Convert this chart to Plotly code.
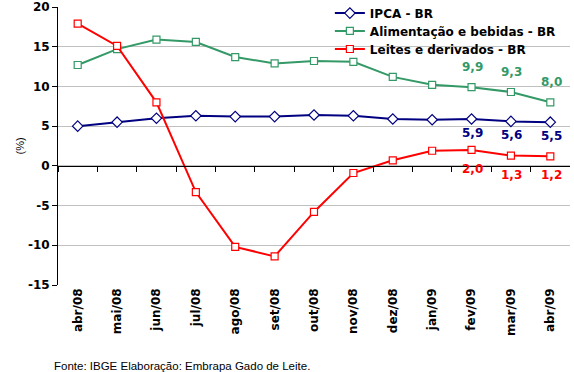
import plotly.graph_objects as go

months = ["abr/08", "mai/08", "jun/08", "jul/08", "ago/08", "set/08", "out/08",
          "nov/08", "dez/08", "jan/09", "fev/09", "mar/09", "abr/09"]
ipca = [5.0, 5.5, 6.0, 6.3, 6.2, 6.2, 6.4, 6.3, 5.9, 5.8, 5.9, 5.6, 5.5]
alimentacao = [12.7, 14.7, 15.9, 15.6, 13.7, 12.9, 13.2, 13.1, 11.2, 10.2, 9.9, 9.3, 8.0]
leites = [17.9, 15.1, 8.0, -3.3, -10.2, -11.4, -5.8, -0.9, 0.7, 1.9, 2.0, 1.3, 1.2]
y_ticks = [-15, -10, -5, 0, 5, 10, 15, 20]
y_tick_text = ["-15", "-10", "-5", "0", "5", "10", "15", "20"]

BOLD = "DejaVu Sans, Verdana, sans-serif"
FONT = "Liberation Sans, Arial, sans-serif"
NAVY = "#000080"
GREEN = "#339966"
RED = "#FF0000"

xs = list(range(len(months)))

fig = go.Figure()
series = [
    ("IPCA - BR", ipca, NAVY, "diamond", 8, "legend"),
    ("Alimentação e bebidas - BR", alimentacao, GREEN, "square", 7, "legend2"),
    ("Leites e derivados - BR", leites, RED, "square", 7, "legend3"),
]
for name, vals, col, sym, ms, lg in series:
    fig.add_trace(go.Scatter(
        x=xs, y=vals, name=name, mode="lines+markers", legend=lg,
        line=dict(color=col, width=2),
        marker=dict(symbol=sym, size=ms, color="white",
                    line=dict(color=col, width=1.2)),
    ))

# dummy trace for the zero-line axis with boundary ticks
fig.add_trace(go.Scatter(x=[None], y=[None], xaxis="x2", showlegend=False,
                         hoverinfo="skip"))

# data labels for the last three points
label_cfg = [(ipca, NAVY, -14), (alimentacao, GREEN, 20), (leites, RED, -19)]
for vals, col, shift in label_cfg:
    for i in range(len(vals) - 3, len(vals)):
        fig.add_annotation(
            x=xs[i], y=vals[i], text=f"{vals[i]:.1f}".replace(".", ","),
            showarrow=False, yshift=shift, xshift=1,
            font=dict(family=BOLD, size=12, color=col, weight="bold"),
        )

fig.add_annotation(
    x=-0.089, y=0.5, xref="paper", yref="paper", text="(%)",
    textangle=-90, showarrow=False,
    font=dict(family=FONT, size=11, color="black"),
)
fig.add_annotation(
    x=-0.012, y=-0.29, xref="paper", yref="paper", xanchor="left", yanchor="middle",
    text="Fonte: IBGE Elaboração: Embrapa Gado de Leite.", showarrow=False,
    font=dict(family=FONT, size=11.5, color="black"),
)

legend_common = dict(
    x=0.531, xanchor="left", yanchor="middle", bgcolor="rgba(0,0,0,0)",
    font=dict(family=BOLD, size=12, color="black", weight="bold"),
    itemwidth=30, borderwidth=0,
)

fig.update_layout(
    width=574, height=372, autosize=False,
    margin=dict(l=58, r=4, t=7, b=87, autoexpand=False),
    paper_bgcolor="white", plot_bgcolor="white",
    font=dict(family=FONT, color="black"),
    showlegend=True,
    legend=dict(y=0.978, **legend_common),
    legend2=dict(y=0.914, **legend_common),
    legend3=dict(y=0.849, **legend_common),
    xaxis=dict(
        range=[-0.5, 12.5], tickmode="array", tickvals=xs, ticktext=months,
        tickangle=-90, showgrid=False, showline=False, zeroline=False, ticks="",
        automargin=False,
        tickfont=dict(family=BOLD, size=12, color="black", weight="bold"),
    ),
    xaxis2=dict(
        overlaying="x", anchor="free", position=15 / 35, range=[-0.5, 12.5],
        tickmode="array", tickvals=[v + 0.5 for v in xs[:-1]] + [-0.5],
        showticklabels=False, ticks="outside", ticklen=5, tickcolor="black",
        showline=True, linecolor="black", linewidth=1, showgrid=False,
        zeroline=False, automargin=False,
    ),
    yaxis=dict(
        range=[-15, 20], tickmode="array", tickvals=y_ticks, ticktext=y_tick_text,
        showgrid=True, gridcolor="#C0C0C0",
        gridwidth=1, zeroline=False, showline=True, linecolor="black",
        ticks="outside", ticklen=5, tickcolor="black", automargin=False,
        tickfont=dict(family=BOLD, size=12, color="black", weight="bold"),
    ),
)

fig.write_html("out.html", config={"displayModeBar": False},
               post_script="document.body.style.margin='0';")
